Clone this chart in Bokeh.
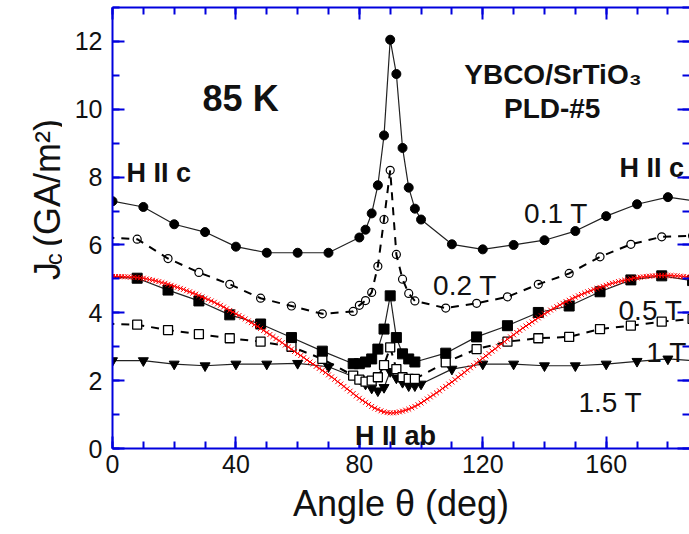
import math
from bokeh.plotting import figure
from bokeh.layouts import row
from bokeh.models import Range1d, LinearAxis, SingleIntervalTicker, Label, CustomJSTickFormatter
from bokeh.core.properties import value
from bokeh.embed import file_html
from bokeh.resources import INLINE

# ---------------- data ----------------
ang_01 = [0, 10, 20, 30, 40, 50, 60, 70, 80, 82, 84, 86, 88, 90, 92, 94, 96, 98, 100,
          110, 120, 130, 140, 150, 160, 170, 180, 190]
jc_01 = [7.29, 7.12, 6.61, 6.38, 5.95, 5.77, 5.77, 5.77, 6.22, 6.45, 6.93, 7.76, 9.23, 12.05,
         11.04, 8.86, 7.69, 7.07, 6.75, 6.02, 5.87, 6.00, 6.14, 6.41, 6.85, 7.20, 7.41, 7.28]

ang_02 = [-2, 8, 18, 28, 38, 48, 58, 68, 78, 80, 82, 84, 86, 88, 90, 92, 94, 96, 98,
          108, 118, 128, 138, 148, 158, 168, 178, 188]
jc_02 = [6.22, 6.17, 5.60, 5.19, 4.84, 4.43, 4.20, 3.97, 4.04, 4.22, 4.36, 4.60, 5.37, 6.75,
         8.20, 5.72, 4.99, 4.57, 4.35, 4.14, 4.28, 4.47, 4.84, 5.16, 5.65, 6.02, 6.24, 6.27]

ang_05 = [-2, 8, 18, 28, 38, 48, 58, 68, 78, 80, 82, 84, 86, 88, 90, 92, 94, 96, 98,
          108, 118, 128, 138, 148, 158, 168, 178, 188]
jc_05 = [5.05, 5.02, 4.67, 4.35, 3.94, 3.67, 3.27, 2.87, 2.50, 2.50, 2.55, 2.64, 2.93, 3.52,
         4.50, 3.27, 2.79, 2.64, 2.55, 2.81, 3.29, 3.62, 4.01, 4.20, 4.62, 4.97, 5.09, 4.95]

ang_1 = [-2, 8, 18, 28, 38, 48, 58, 68, 78, 80, 82, 84, 86, 88, 90, 92, 94, 96, 98,
         108, 118, 128, 138, 148, 158, 168, 178, 188]
jc_1 = [3.68, 3.65, 3.49, 3.37, 3.25, 3.15, 3.00, 2.64, 2.15, 2.03, 1.97, 2.00, 2.10, 2.46,
        2.98, 2.34, 2.10, 2.05, 2.05, 2.54, 2.93, 3.15, 3.25, 3.29, 3.52, 3.62, 3.74, 3.82]

ang_15 = [0, 10, 20, 30, 40, 50, 60, 70, 80, 82, 84, 86, 88, 90, 92, 94, 96, 98, 100,
          110, 120, 130, 140, 150, 160, 170, 180, 190]
jc_15 = [2.59, 2.59, 2.49, 2.44, 2.49, 2.49, 2.51, 2.41, 2.05, 1.90, 1.78, 1.70, 1.80, 2.27,
         2.08, 1.95, 1.85, 1.85, 1.90, 2.34, 2.49, 2.49, 2.44, 2.44, 2.49, 2.57, 2.64, 2.58]

# fitted curve (red crosses), one value per degree 0..187
ang_fit = list(range(0, 188))
jc_fit = [
    5.07, 5.07, 5.07, 5.07, 5.06, 5.06, 5.05, 5.05, 5.04, 5.03,
    5.02, 5.00, 4.98, 4.96, 4.94, 4.92, 4.89, 4.87, 4.84, 4.81,
    4.78, 4.75, 4.72, 4.69, 4.65, 4.62, 4.58, 4.55, 4.51, 4.47,
    4.43, 4.39, 4.35, 4.31, 4.26, 4.22, 4.17, 4.12, 4.07, 4.02,
    3.97, 3.92, 3.87, 3.82, 3.76, 3.71, 3.65, 3.60, 3.54, 3.48,
    3.42, 3.36, 3.30, 3.24, 3.18, 3.12, 3.05, 2.99, 2.93, 2.86,
    2.80, 2.74, 2.68, 2.61, 2.55, 2.49, 2.42, 2.36, 2.30, 2.24,
    2.17, 2.11, 2.04, 1.97, 1.90, 1.83, 1.76, 1.69, 1.62, 1.55,
    1.48, 1.42, 1.36, 1.30, 1.24, 1.19, 1.15, 1.11, 1.08, 1.06,
    1.05, 1.05, 1.06, 1.08, 1.10, 1.13, 1.16, 1.20, 1.24, 1.29,
    1.34, 1.40, 1.46, 1.52, 1.58, 1.64, 1.70, 1.77, 1.83, 1.90,
    1.96, 2.03, 2.10, 2.17, 2.24, 2.31, 2.38, 2.45, 2.52, 2.59,
    2.66, 2.73, 2.80, 2.87, 2.94, 3.01, 3.08, 3.15, 3.22, 3.29,
    3.35, 3.42, 3.48, 3.55, 3.61, 3.67, 3.73, 3.79, 3.85, 3.91,
    3.97, 4.02, 4.08, 4.13, 4.18, 4.23, 4.28, 4.33, 4.37, 4.42,
    4.46, 4.50, 4.54, 4.58, 4.62, 4.65, 4.69, 4.72, 4.75, 4.78,
    4.81, 4.84, 4.87, 4.89, 4.92, 4.94, 4.96, 4.98, 5.00, 5.02,
    5.03, 5.05, 5.06, 5.07, 5.08, 5.09, 5.09, 5.10, 5.10, 5.10,
    5.10, 5.10, 5.09, 5.09, 5.08, 5.07, 5.06, 5.05,
]

x_ticks_major = 40
y_ticks_major = 2

ylabel_parts = ["J", "c", "(GA/m\u00b2)"]

# ---------------- styling ----------------
BLUE = "#0000dd"
FONT = "Liberation Sans"
INK = "#111111"

# left strip that carries the rotated y-axis title
ylab = figure(width=62, height=534, output_backend="svg", toolbar_location=None,
              x_range=Range1d(0, 62), y_range=Range1d(0, 534),
              x_axis_location=None, y_axis_location=None,
              min_border_left=0, min_border_right=0, min_border_top=0, min_border_bottom=0)
ylab.xgrid.visible = False
ylab.ygrid.visible = False
ylab.outline_line_color = None
rot = math.pi / 2
ylab.text(x=[47], y=[204], text=[ylabel_parts[0]], angle=rot,
          text_font=value(FONT), text_font_size="36px", text_color=INK,
          text_baseline="alphabetic", text_align="left")
ylab.text(x=[53], y=[222], text=[ylabel_parts[1]], angle=rot,
          text_font=value(FONT), text_font_size="24px", text_color=INK,
          text_baseline="alphabetic", text_align="left")
ylab.text(x=[47], y=[244], text=[ylabel_parts[2]], angle=rot,
          text_font=value(FONT), text_font_size="36px", text_color=INK,
          text_baseline="alphabetic", text_align="left")

p = figure(width=627, height=534, output_backend="svg", toolbar_location=None,
           x_range=Range1d(0, 187), y_range=Range1d(0, 13),
           min_border_left=50, min_border_right=0, min_border_top=7,
           min_border_bottom=86)
p.xgrid.visible = False
p.ygrid.visible = False
p.outline_line_color = None


def style_axis(ax, interval, minor, labels=True):
    ax.ticker = SingleIntervalTicker(interval=interval, num_minor_ticks=minor)
    ax.axis_line_color = BLUE
    ax.axis_line_width = 2
    ax.major_tick_line_color = BLUE
    ax.major_tick_line_width = 2
    ax.minor_tick_line_color = BLUE
    ax.minor_tick_line_width = 2
    ax.major_tick_in = 12
    ax.major_tick_out = 0
    ax.minor_tick_in = 7
    ax.minor_tick_out = 0
    if labels:
        ax.major_label_text_font = FONT
        ax.major_label_text_font_size = "25px"
        ax.major_label_text_color = INK
    else:
        ax.formatter = CustomJSTickFormatter(code="return ''")
        ax.major_label_standoff = 0


style_axis(p.xaxis[0], x_ticks_major, 4)
p.xaxis[0].major_label_standoff = 6
p.xaxis[0].axis_label = "Angle \u03b8 (deg)"
p.xaxis[0].axis_label_text_font = FONT
p.xaxis[0].axis_label_text_font_size = "36px"
p.xaxis[0].axis_label_text_font_style = "normal"
p.xaxis[0].axis_label_text_color = INK
p.xaxis[0].axis_label_standoff = 7
style_axis(p.yaxis[0], y_ticks_major, 2)
p.yaxis[0].major_label_standoff = 10

top_ax = LinearAxis()
style_axis(top_ax, x_ticks_major, 4, labels=False)
p.add_layout(top_ax, "above")
right_ax = LinearAxis()
style_axis(right_ax, y_ticks_major, 2, labels=False)
right_ax.axis_line_color = None
p.add_layout(right_ax, "right")

LINE = "#222222"

# 1.5 T
p.line(ang_15, jc_15, line_color=LINE, line_width=1.2)
p.scatter(ang_15, jc_15, marker="inverted_triangle", size=10, fill_color="black",
          line_color="black")
# 1 T
p.line(ang_1, jc_1, line_color="black", line_width=2, line_dash="8 7")
p.scatter(ang_1, jc_1, marker="square", size=9, fill_color="white",
          line_color="black", line_width=1.3)
# 0.5 T
p.line(ang_05, jc_05, line_color=LINE, line_width=1.2)
p.scatter(ang_05, jc_05, marker="square", size=10, fill_color="black",
          line_color="black")
# 0.2 T
p.line(ang_02, jc_02, line_color="black", line_width=2, line_dash="8 7")
p.scatter(ang_02, jc_02, marker="circle", size=8, fill_color=None,
          line_color="black", line_width=1.2)
# 0.1 T
p.line(ang_01, jc_01, line_color=LINE, line_width=1.2)
p.scatter(ang_01, jc_01, marker="circle", size=9, fill_color="black",
          line_color="black")
# fit
p.line(ang_fit, jc_fit, line_color="red", line_width=1.0)
p.scatter(ang_fit, jc_fit, marker="x", size=7, line_color="red", line_width=1.0)


def lab(txt, x, y, size, bold=False, align="left", font=FONT):
    p.add_layout(Label(x=x, y=y, text=txt, text_font=font,
                       text_font_size=size,
                       text_font_style="bold" if bold else "normal",
                       text_align=align, text_baseline="alphabetic",
                       text_color=INK))


lab("85 K", 29.2, 10.32, "36px", bold=True)
lab("YBCO/SrTiO\u2083", 114.0, 11.03, "28px", bold=True)
lab("PLD-#5", 142.5, 10.03, "28px", bold=True, align="center")
lab("H II c", 4.5, 8.11, "27px", bold=True)
lab("H II c", 164.3, 8.26, "27px", bold=True)
lab("H II ab", 78.6, 0.38, "27px", bold=True)

lab("0.1 T", 133.4, 6.93, "28px")
lab("0.2 T", 103.9, 4.81, "28px")
lab("0.5 T", 164.0, 4.07, "28px")
lab("1 T", 173.0, 2.83, "28px")
lab("1.5 T", 151.0, 1.36, "28px")

layout = row(ylab, p)
open("out.html", "w").write(file_html(layout, INLINE))
